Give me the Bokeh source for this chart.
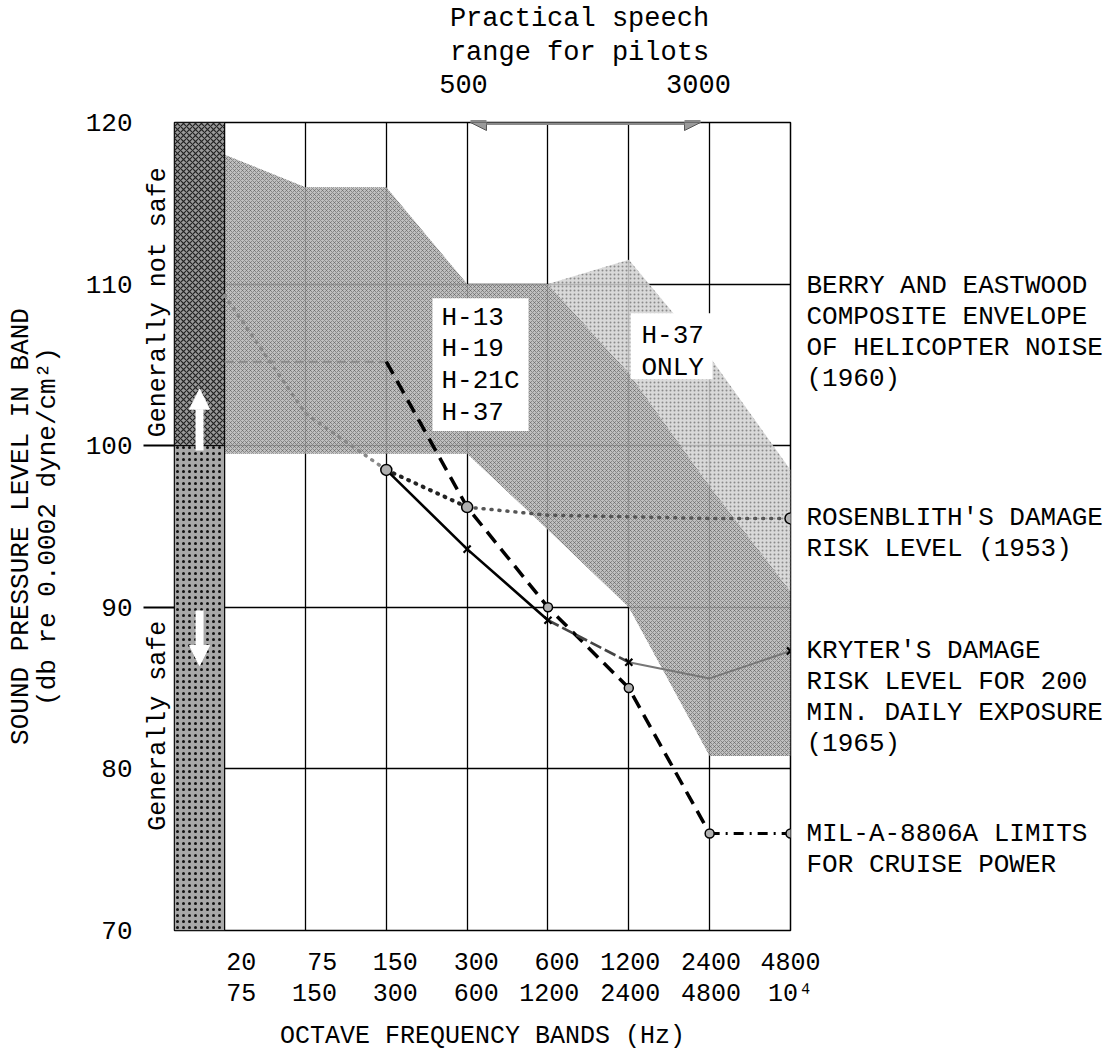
from bokeh.plotting import figure
from bokeh.models import (LinearAxis, FixedTicker, Grid, Arrow, NormalHead, Range1d)
from bokeh.embed import file_html
from bokeh.resources import INLINE
from bokeh.core.properties import value

nan = float("nan")

# ---------------- data ----------------
band_low = ["20", "75", "150", "300", "600", "1200", "2400", "4800"]
band_high = ["75", "150", "300", "600", "1200", "2400", "4800", "10\u2074"]
band_idx = [0, 1, 2, 3, 4, 5, 6, 7]

# Berry & Eastwood composite envelope (H-13, H-19, H-21C, H-37)
envelope_low = [99.5, 99.5, 99.5, 99.5, 94.8, 90.0, 80.8, 80.8]
envelope_high = [118.0, 116.0, 116.0, 110.0, 110.0, 104.5, 97.5, 91.0]
# H-37 only part of the envelope
h37_idx = [4, 5, 6, 7]
h37_high = [110.0, 111.5, 105.5, 98.5]

rosenblith_db = [109.3, 102.0, 98.5, 96.2, 95.7, 95.6, 95.5, 95.5]
kryter_db = [nan, nan, 98.5, 93.6, 89.2, 86.6, 85.6, 87.3]
mil_db = [105.2, 105.2, 105.2, 96.2, 90.0, 85.0, 76.0, 76.0]

y_ticks = [70, 80, 90, 100, 110, 120]
speech_labels = ["500", "3000"]
safe_bounds = [90.0, 100.0]

FONT = "Liberation Mono"

# ---------------- layout helpers (page pixels -> data units, for annotations only) ----
L, R, T, B = 174, 790, 121, 930
X0, X1 = -0.62, 7.0
Y0, Y1 = 70.0, 120.0
W, H = 1119, 1058
pxu = (R - L) / (X1 - X0)
pyu = (B - T) / (Y1 - Y0)


def xu(px):
    return X0 + (px - L) / pxu


def ydb(py):
    return Y0 + (B - py) / pyu


p = figure(width=W, height=H, x_range=Range1d(X0, X1), y_range=Range1d(Y0, Y1),
           x_axis_type=None, y_axis_type=None, toolbar_location=None,
           output_backend="svg", min_border_left=L, min_border_right=W - R,
           min_border_top=T, min_border_bottom=H - B)
p.outline_line_color = "black"
p.outline_line_width = 1.5
p.background_fill_color = "white"
p.border_fill_color = "white"

NOTICK = dict(major_tick_out=0, major_tick_in=0, minor_tick_out=0, minor_tick_in=0,
              axis_line_color=None)
ALAB = dict(axis_label_text_font=FONT, axis_label_text_font_size="26px",
            axis_label_text_font_style="normal", axis_label_text_color="black")


def ax(ticks, labels, standoff, size="26px", **kw):
    a = LinearAxis(ticker=FixedTicker(ticks=ticks),
                   major_label_overrides={k: s for k, s in zip(ticks, labels)},
                   major_label_standoff=standoff, major_label_text_font=FONT,
                   major_label_text_font_size=size, major_label_text_color="black",
                   **{**NOTICK, **kw})
    return a


# grid
p.add_layout(Grid(dimension=0, ticker=FixedTicker(ticks=band_idx),
                  grid_line_color="black", grid_line_width=1.3))
p.add_layout(Grid(dimension=1, ticker=FixedTicker(ticks=y_ticks),
                  grid_line_color="black", grid_line_width=1.3))

# ---- left side: safe-limit ticks, safe / not safe column, numbers, titles ----
axT = LinearAxis(ticker=FixedTicker(ticks=safe_bounds),
                 major_label_overrides={v: " " for v in safe_bounds},
                 major_label_standoff=0, major_label_text_font_size="2px",
                 major_tick_out=31, major_tick_in=0, major_tick_line_width=1.8,
                 major_tick_line_color="#000000", major_tick_line_alpha=1.0,
                 major_tick_line_cap="butt",
                 minor_tick_out=0, minor_tick_in=0, axis_line_color=None)
p.add_layout(axT, "left")

safe_pos = [round(ydb(301), 3), round(ydb(725), 3)]
axA = ax(safe_pos, ["Generally not safe", "Generally safe"], -34, "25px",
         major_label_orientation="vertical")
p.add_layout(axA, "left")
axB = ax(y_ticks, [str(v) for v in y_ticks], 7,
         axis_label="(db re 0.0002 dyne/cm\u00b2)", axis_label_standoff=20, **ALAB)
p.add_layout(axB, "left")
axC = LinearAxis(ticker=FixedTicker(ticks=[]), axis_label="SOUND PRESSURE LEVEL IN BAND",
                 axis_label_standoff=-6, major_label_standoff=0, **NOTICK, **ALAB)
p.add_layout(axC, "left")

# ---- bottom: two rows of band limits (right-aligned columns) + title ----
char_u = 15.3 / pxu
edge_u = 32 / pxu
row1_pos = [round(min(X1, i + edge_u - char_u * len(s) / 2), 4) for i, s in zip(band_idx, band_low)]
row2_pos = [round(min(X1, i + edge_u - char_u * len(s) / 2), 4) for i, s in zip(band_idx, band_high)]

xaxis1 = ax(row1_pos, band_low, 22, "25px")
xaxis2 = ax(row2_pos, band_high, 7, "25px", axis_label="OCTAVE FREQUENCY BANDS (Hz)",
            axis_label_standoff=10, axis_label_text_font=FONT,
            axis_label_text_font_size="25px", axis_label_text_font_style="normal",
            axis_label_text_color="black")
p.add_layout(xaxis1, "below")
p.add_layout(xaxis2, "below")

# ---- top: speech range ----
speech_pos = [round(xu(463), 3), round(xu(698), 3)]
head_pos = [round(xu(579), 3)]
p.add_layout(ax(speech_pos, speech_labels, 30, "27px"), "above")
p.add_layout(ax(head_pos, ["range for pilots"], 4, "27px"), "above")
p.add_layout(ax(head_pos, ["Practical speech"], 1, "27px"), "above")

# ---- right: curve descriptions ----
right_lines = [
    ("BERRY AND EASTWOOD", 285), ("COMPOSITE ENVELOPE", 316),
    ("OF HELICOPTER NOISE", 347), ("(1960)", 378),
    ("ROSENBLITH'S DAMAGE", 517), ("RISK LEVEL  (1953)", 548),
    ("KRYTER'S DAMAGE", 650), ("RISK LEVEL FOR 200", 681),
    ("MIN. DAILY EXPOSURE", 712), ("(1965)", 743),
    ("MIL-A-8806A LIMITS", 833), ("FOR CRUISE POWER", 864),
]
r_pos = [round(ydb(py), 3) for _, py in right_lines]
p.add_layout(ax(r_pos, [t for t, _ in right_lines], 16, "26px"), "right")

# envelope shading
p.varea(x=band_idx, y1=envelope_low, y2=envelope_high, fill_color="#b4b4b4", fill_alpha=0.85,
        hatch_pattern="diagonal_cross", hatch_color="#5a5a5a", hatch_scale=4,
        hatch_weight=0.7, hatch_alpha=0.8)
p.varea(x=h37_idx, y1=envelope_high[4:], y2=h37_high, fill_color="#d2d2d2", fill_alpha=0.85,
        hatch_pattern="dot", hatch_color="#777777", hatch_scale=4, hatch_weight=1.0,
        hatch_alpha=0.8)

# left strip (below lowest band)
p.quad(left=X0, right=band_idx[0], bottom=safe_bounds[1], top=Y1, fill_color="#9a9a9a",
       hatch_pattern="diagonal_cross", hatch_color="#222222", hatch_scale=6,
       hatch_weight=1.2, line_color="black", line_width=1)
p.quad(left=X0, right=band_idx[0], bottom=Y0, top=safe_bounds[1], fill_color="#a8a8a8",
       hatch_pattern="dot", hatch_color="#111111", hatch_scale=6, hatch_weight=2.6,
       line_color="black", line_width=1)
ax_mid = (X0 + band_idx[0]) / 2
p.add_layout(Arrow(end=NormalHead(size=20, fill_color="white", line_color="white"),
                   x_start=ax_mid, y_start=99.7, x_end=ax_mid, y_end=103.5,
                   line_color="white", line_width=8))
p.add_layout(Arrow(end=NormalHead(size=20, fill_color="white", line_color="white"),
                   x_start=ax_mid, y_start=89.8, x_end=ax_mid, y_end=86.4,
                   line_color="white", line_width=8))

# text boxes in envelope
p.quad(left=[xu(432), xu(630)], right=[xu(528), xu(712)],
       bottom=[ydb(430), ydb(378)], top=[ydb(297), ydb(312)],
       fill_color="white", line_color=None)
p.text(x=[xu(441)] * 4, y=[ydb(317), ydb(348), ydb(380), ydb(412)],
       text=["H-13", "H-19", "H-21C", "H-37"], text_font=value(FONT),
       text_font_size="26px", text_baseline="middle", text_color="black")
p.text(x=[xu(641)] * 2, y=[ydb(335), ydb(367)], text=["H-37", "ONLY"],
       text_font=value(FONT), text_font_size="26px", text_baseline="middle",
       text_color="black")

# Rosenblith
p.line(band_idx[:3], rosenblith_db[:3], line_color="#888888", line_width=3.5,
       line_dash="1 7", line_cap="round")
p.line(band_idx[2:4], rosenblith_db[2:4], line_color="#222222", line_width=4,
       line_dash="1 7", line_cap="round")
p.line(band_idx[3:], rosenblith_db[3:], line_color="#555555", line_width=3.5,
       line_dash="1 7", line_cap="round")

# MIL-A-8806A
p.line(band_idx[:3], mil_db[:3], line_color="#8a8a8a", line_width=2, line_dash="9 5")
p.line(band_idx[2:7], mil_db[2:7], line_color="black", line_width=3.5, line_dash="14 8")
p.line(band_idx[6:], mil_db[6:], line_color="black", line_width=3, line_dash="10 6 2 6")

# Kryter
p.line(band_idx[2:5], kryter_db[2:5], line_color="black", line_width=2.6)
p.line(band_idx[4:6], kryter_db[4:6], line_color="#444444", line_width=2.6, line_dash="12 4")
p.line(band_idx[5:], kryter_db[5:], line_color="#777777", line_width=2)

# markers
rs = [2, 3, 7]
p.scatter([band_idx[i] for i in rs], [rosenblith_db[i] for i in rs], marker="circle",
          size=11, fill_color="#b0b0b0", line_color="black", line_width=1.5)
ms = [4, 5, 6, 7]
p.scatter([band_idx[i] for i in ms], [mil_db[i] for i in ms], marker="circle",
          size=9, fill_color="#b0b0b0", line_color="black", line_width=1.5)
ks = [3, 4, 5, 7]
p.scatter([band_idx[i] for i in ks], [kryter_db[i] for i in ks], marker="x",
          size=10, line_color="black", line_width=2.2)

# speech range arrow on top
p.add_layout(Arrow(start=NormalHead(size=16, fill_color="#9a9a9a", line_color="#555555"),
                   end=NormalHead(size=16, fill_color="#9a9a9a", line_color="#555555"),
                   x_start=xu(470), y_start=Y1, x_end=xu(700), y_end=Y1,
                   line_color="#8a8a8a", line_width=5))

open("out.html", "w").write(file_html(p, INLINE))
